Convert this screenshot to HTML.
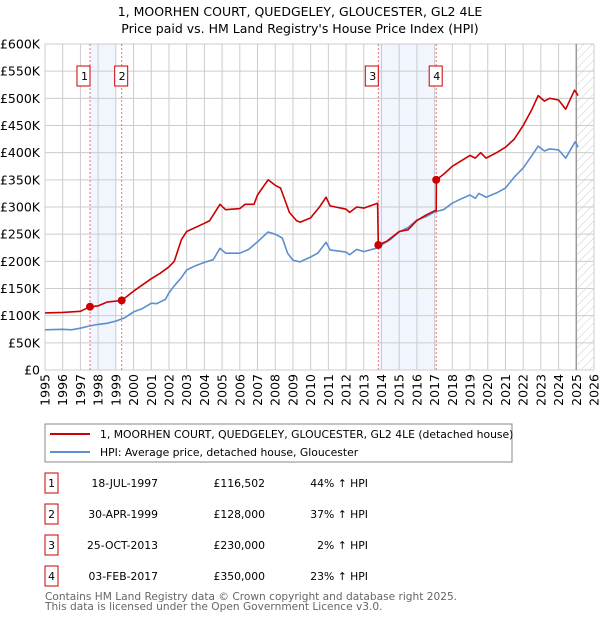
<!DOCTYPE html>
<html><head><meta charset="utf-8"><style>
body{margin:0;background:#fff;font-family:"Liberation Sans","DejaVu Sans",sans-serif;}
svg text{font-family:"DejaVu Sans","Liberation Sans",sans-serif;}
</style></head><body>
<svg id="c" width="600" height="620" xmlns="http://www.w3.org/2000/svg">
<defs><pattern id="hatch" width="6" height="6" patternUnits="userSpaceOnUse" patternTransform="rotate(45)"><line x1="0" y1="0" x2="0" y2="6" stroke="#ccc" stroke-width="1"/></pattern></defs>
<text x="300" y="16" text-anchor="middle" font-size="12.5">1, MOORHEN COURT, QUEDGELEY, GLOUCESTER, GL2 4LE</text>
<text x="300" y="33" text-anchor="middle" font-size="12.5">Price paid vs. HM Land Registry's House Price Index (HPI)</text>
<g id="plot"></g>
<rect x="45" y="424" width="467" height="38" fill="#fff" stroke="#888"/>
<line x1="50" y1="434" x2="90" y2="434" stroke="#cc0000" stroke-width="2"/>
<text x="100" y="438" font-size="10.8">1, MOORHEN COURT, QUEDGELEY, GLOUCESTER, GL2 4LE (detached house)</text>
<line x1="50" y1="452" x2="90" y2="452" stroke="#5b8fd0" stroke-width="2"/>
<text x="100" y="456" font-size="10.8">HPI: Average price, detached house, Gloucester</text>
<g id="tbl"></g>
<text x="45" y="600" font-size="10.6" fill="#666">Contains HM Land Registry data © Crown copyright and database right 2025.</text>
<text x="45" y="610" font-size="10.6" fill="#666">This data is licensed under the Open Government Licence v3.0.</text>
</svg>
<script>
const hpiYears=[1995,1996,1996.5,1997,1997.5,1998,1998.5,1999,1999.5,2000,2000.5,2001,2001.3,2001.8,2002,2002.3,2002.7,2003,2003.5,2004,2004.5,2004.88,2005.2,2006,2006.5,2007,2007.6,2008,2008.4,2008.7,2009,2009.4,2010,2010.4,2010.87,2011.1,2012,2012.2,2012.6,2013,2013.8,2014,2014.5,2015,2015.5,2016,2016.5,2017,2017.5,2018,2018.5,2019,2019.3,2019.5,2019.9,2020.5,2021,2021.5,2022,2022.5,2022.85,2023.2,2023.5,2024,2024.4,2024.93,2025.1];
const hpiValues=[74,75,74,77,81,84,86,90,96,107,113,123,122,130,142,155,170,184,192,198,203,224,215,215,222,236,254,250,243,215,202,199,208,215,235,221,217,212,222,218,225,230,240,254,262,276,282,291,295,307,315,322,316,325,318,326,335,355,372,395,412,403,407,405,390,420,410];
const ppYears=[1995,1996,1997,1997.54,1998,1998.5,1999.33,2000,2001,2001.5,2002,2002.3,2002.7,2003,2004,2004.3,2004.88,2005.2,2006,2006.3,2006.8,2007,2007.6,2008,2008.3,2008.8,2009.2,2009.4,2010,2010.5,2010.87,2011.1,2012,2012.2,2012.6,2013,2013.78,2013.82,2014.3,2015,2015.5,2016,2016.5,2017.0,2017.09,2017.1,2017.5,2018,2018.5,2019,2019.3,2019.6,2019.9,2020.5,2021,2021.5,2022,2022.5,2022.85,2023.2,2023.5,2024,2024.4,2024.9,2025.1];
const ppValues=[105,106,108,116.5,118,125,128,145,168,178,190,200,240,255,270,275,305,295,297,305,305,322,350,340,335,290,275,272,280,300,318,302,296,290,300,298,307,230,237,255,258,275,285,293,293,350,360,375,385,395,390,400,390,400,410,425,450,480,505,495,500,497,480,515,505];
const saleLabels=["1","2","3","4"];
const saleYears=[1997.54,1999.33,2013.82,2017.09];
const saleValues=[116.502,128,230,350];
const saleDates=["18-JUL-1997","30-APR-1999","25-OCT-2013","03-FEB-2017"];
const salePrices=["£116,502","£128,000","£230,000","£350,000"];
const saleHpi=["44% ↑ HPI","37% ↑ HPI","2% ↑ HPI","23% ↑ HPI"];
const yTicks=[0,50,100,150,200,250,300,350,400,450,500,550,600];
const yTickLabels=["£0","£50K","£100K","£150K","£200K","£250K","£300K","£350K","£400K","£450K","£500K","£550K","£600K"];
const xTicks=[1995,1996,1997,1998,1999,2000,2001,2002,2003,2004,2005,2006,2007,2008,2009,2010,2011,2012,2013,2014,2015,2016,2017,2018,2019,2020,2021,2022,2023,2024,2025,2026];

const X0=45,X1=594,Y0=370,Y1=44;
const xs=y=>X0+(y-1995)*(X1-X0)/31;
const ys=v=>Y0-(v/600)*(Y0-Y1);
const NS="http://www.w3.org/2000/svg";
const g=document.getElementById('plot');
function mk(tag,attrs,parent){const e=document.createElementNS(NS,tag);for(const k in attrs)e.setAttribute(k,attrs[k]);(parent||g).appendChild(e);return e;}

let e;
e=mk('rect',{x:xs(saleYears[0]),y:Y1,width:xs(1999)-xs(saleYears[0]),height:Y0-Y1,fill:'#eef3fc',opacity:0.8});


e=mk('rect',{x:xs(saleYears[2]),y:Y1,width:xs(2017)-xs(saleYears[2]),height:Y0-Y1,fill:'#eef3fc',opacity:0.8});


e=mk('rect',{x:xs(2025),y:Y1,width:X1-xs(2025),height:Y0-Y1,fill:'url(#hatch)'});



xTicks.forEach((t,i)=>{
  let l=mk('line',{x1:xs(t),x2:xs(t),y1:Y1,y2:Y0,stroke:'#ccc','stroke-width':1});
  
  
  let tx=mk('text',{x:0,y:0,'font-size':12.5,'text-anchor':'end',transform:`translate(${xs(t)+4.5},374) rotate(-90)`});
  tx.textContent=t;
  
  
});
yTicks.forEach((t,i)=>{
  let l=mk('line',{x1:X0,x2:X1,y1:ys(t),y2:ys(t),stroke:'#ccc','stroke-width':1});
  
  
  let tx=mk('text',{x:40,y:ys(t)+4.5,'font-size':12.5,'text-anchor':'end'});
  tx.textContent=yTickLabels[i];
  
  
});
e=mk('line',{x1:xs(2025),x2:xs(2025),y1:Y1,y2:Y0,stroke:'#999','stroke-width':1.5});



saleYears.forEach((y,i)=>{
  let l=mk('line',{x1:xs(y),x2:xs(y),y1:Y1,y2:Y0,stroke:'#f07070','stroke-width':1,'stroke-dasharray':'2,2'});
  
  
});

function path(xa,va,col,name){
  let d=xa.map((x,i)=>(i?'L':'M')+xs(x).toFixed(1)+','+ys(va[i]).toFixed(1)).join('');
  let p=mk('path',{d:d,fill:'none',stroke:col,'stroke-width':1.6,'stroke-linejoin':'round'});
  
  
}
path(hpiYears,hpiValues,'#5b8fd0','hpi-line');
path(ppYears,ppValues,'#cc0000','price-paid-line');

saleYears.forEach((y,i)=>{
  let c=mk('circle',{cx:xs(y),cy:ys(saleValues[i]),r:4,fill:'#cc0000'});
  
  
  let r=mk('rect',{x:xs(y)+(i===0||i===2?-12:-6)-1,y:66,width:13,height:20,fill:'#fff',stroke:'#cc0000'});
  
  
  let t=mk('text',{x:xs(y)+(i===0||i===2?-5.5:0.5),y:80,'font-size':11,'text-anchor':'middle'});
  t.textContent=saleLabels[i];
  
  
});

const tb=document.getElementById('tbl');
saleLabels.forEach((s,i)=>{
  const cy=483+i*31;
  let r=mk('rect',{x:45,y:cy-10,width:13,height:20,fill:'#fff',stroke:'#cc0000'},tb);
  
  
  const cells=[[51.5,s,'middle'],[158,saleDates[i],'end'],[265,salePrices[i],'end'],[368,saleHpi[i],'end']];
  const names=['table-index','table-date','table-price','table-hpi-diff'];
  cells.forEach((c,j)=>{
    let t=mk('text',{x:c[0],y:cy+4,'font-size':10.8,'text-anchor':c[2]},tb);
    t.textContent=c[1];
    
    
  });
});
</script>
</body></html>
